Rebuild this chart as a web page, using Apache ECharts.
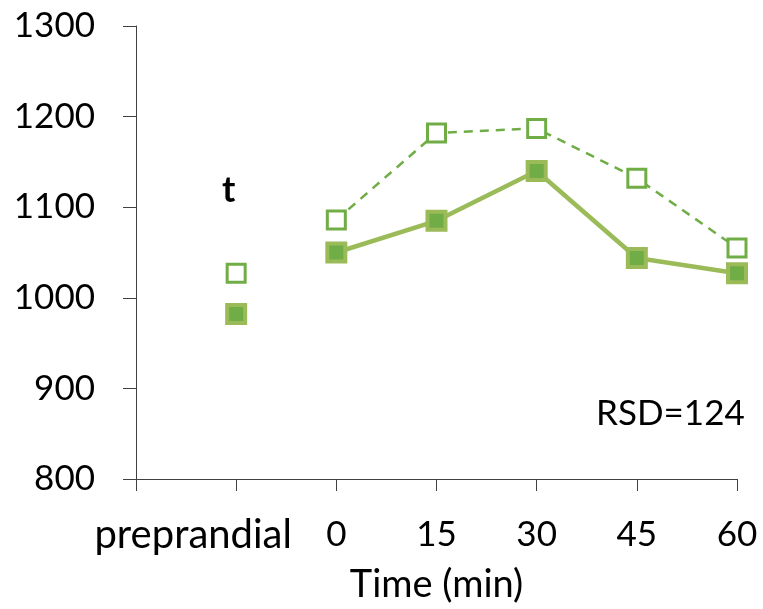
<!DOCTYPE html>
<html>
<head>
<meta charset="utf-8">
<script src="https://cdn.jsdelivr.net/npm/echarts@6/dist/echarts.min.js"></script>
<style>
html,body{margin:0;padding:0;background:#fff;}
#chart{width:763px;height:609px;}
</style>
</head>
<body>
<div id="chart"></div>
<script>
var categories = ['', 'preprandial', '0', '15', '30', '45', '60'];
var openValues = [null, 1027, 1086, 1182, 1187, 1132, 1055];
var filledValues = [null, 982, 1050, 1085, 1140, 1044, 1027];
var yTicks = [800, 900, 1000, 1100, 1200, 1300];
var annotation = 't';
var rsdText = 'RSD=124';

var FONT = 'Lato';

function lineData(arr) {
  return arr.map(function (v, i) { return i >= 2 ? v : null; });
}
function preData(arr) {
  return arr.map(function (v, i) { return i === 1 ? v : null; });
}

var openStyle = { color: '#ffffff', borderColor: '#70AD47', borderWidth: 3, opacity: 1 };
var filledStyle = { color: '#70AD47', borderColor: '#9BBB59', borderWidth: 4, opacity: 1 };

var chart = echarts.init(document.getElementById('chart'));
chart.setOption({
  animation: false,
  backgroundColor: '#ffffff',
  grid: { left: 136, right: 26, top: 26, bottom: 129, containLabel: false },
  xAxis: {
    type: 'category',
    data: categories.map(function (c) {
      if (c === 'preprandial') {
        return { value: c, textStyle: { fontSize: 40, padding: [0, 86, 0, 0] } };
      }
      return c;
    }),
    boundaryGap: false,
    axisLine: { lineStyle: { color: '#404040', width: 1 } },
    axisTick: { show: true, length: 12, lineStyle: { color: '#404040' }, interval: 0 },
    axisLabel: { interval: 0, margin: 38, fontFamily: FONT, fontSize: 35, color: '#000', lineHeight: 36 },
    name: 'Time (min)',
    nameLocation: 'middle',
    nameGap: 87,
    nameTextStyle: { fontFamily: FONT, fontSize: 38, color: '#000', lineHeight: 38 },
    splitLine: { show: false }
  },
  yAxis: {
    type: 'value',
    min: yTicks[0],
    max: yTicks[yTicks.length - 1],
    interval: 100,
    axisLine: { show: true, lineStyle: { color: '#404040', width: 1 } },
    axisTick: { show: true, length: 13, lineStyle: { color: '#404040' } },
    axisLabel: { margin: 41, fontFamily: FONT, fontSize: 35, color: '#000', formatter: function (v) { return String(v); } },
    splitLine: { show: false }
  },
  series: [
    {
      type: 'line',
      data: lineData(openValues),
      connectNulls: false,
      symbol: 'rect',
      symbolSize: 18,
      lineStyle: { color: '#70AD47', width: 2.5, type: [9, 7] },
      itemStyle: openStyle,
      z: 3
    },
    {
      type: 'line',
      data: lineData(filledValues),
      connectNulls: false,
      symbol: 'rect',
      symbolSize: 18,
      lineStyle: { color: '#9BBB59', width: 4.5 },
      itemStyle: filledStyle,
      z: 4
    },
    {
      type: 'scatter',
      data: preData(openValues),
      symbol: 'rect',
      symbolSize: 18,
      itemStyle: openStyle,
      z: 3
    },
    {
      type: 'scatter',
      data: preData(filledValues),
      symbol: 'rect',
      symbolSize: 18,
      itemStyle: filledStyle,
      z: 4
    }
  ],
  graphic: [
    { type: 'text', left: 222, top: 172, style: { text: annotation, fontFamily: FONT, fontSize: 36, fontWeight: 'bold', fill: '#000' } },
    { type: 'text', left: 596, top: 396, style: { text: rsdText, fontFamily: FONT, fontSize: 35, fill: '#000' } }
  ]
});
</script>
</body>
</html>
